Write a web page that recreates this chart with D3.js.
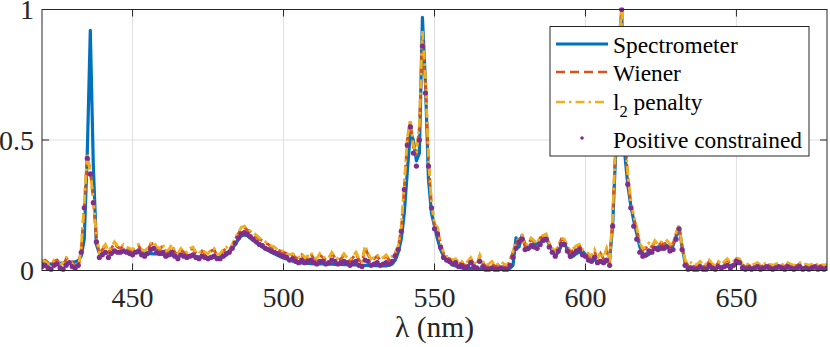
<!DOCTYPE html>
<html>
<head>
<meta charset="utf-8">
<script src="https://cdn.jsdelivr.net/npm/d3@7"></script>
<style>
  body { margin: 0; background: #fff; }
</style>
</head>
<body>
<svg id="chart" width="830" height="347"></svg>
<script>
// wavelength grid (nm), one sample per nm
var wavelength = d3.range(420, 681);

var xTicks = [450, 500, 550, 600, 650];
var yTicks = [0, 0.5, 1];
var yTickLabels = ["0", "0.5", "1"];

var seriesNames = ["Spectrometer", "Wiener", "l2 penalty", "Positive constrained"];

var spectrometer = [
  .028,.027,.026,.025,.025,.026,.027,.028,.029,.030,
  .031,.033,.038,.055,.12,.45,.92,.40,.10,.066,
  .064,.066,.068,.070,.071,.072,.072,.072,.071,.071,
  .070,.069,.068,.067,.067,.066,.065,.064,.064,.063,
  .062,.061,.060,.059,.058,.058,.057,.056,.055,.055,
  .054,.053,.052,.052,.051,.050,.050,.050,.050,.051,
  .053,.058,.068,.085,.100,.118,.132,.138,.133,.124,
  .115,.106,.098,.090,.083,.076,.070,.064,.058,.053,
  .048,.044,.040,.036,.033,.031,.029,.028,.027,.026,
  .026,.025,.025,.025,.024,.024,.024,.023,.023,.023,
  .022,.022,.022,.021,.021,.021,.020,.020,.020,.020,
  .019,.019,.019,.018,.018,.020,.025,.040,.070,.120,
  .220,.380,.530,.500,.420,.450,.970,.720,.350,.220,
  .170,.120,.080,.055,.040,.030,.022,.017,.013,.010,
  .008,.007,.007,.006,.006,.006,.005,.005,.005,.005,
  .005,.005,.005,.005,.006,.008,.020,.125,.090,.135,
  .100,.080,.090,.105,.100,.110,.125,.120,.100,.075,
  .055,.070,.095,.105,.080,.050,.055,.065,.070,.075,
  .060,.040,.035,.040,.040,.035,.035,.033,.040,.170,
  .450,.850,1.00,.450,.330,.250,.190,.140,.090,.065,
  .055,.062,.075,.085,.090,.095,.100,.095,.090,.095,
  .130,.165,.090,.030,.015,.012,.011,.010,.010,.010,
  .010,.011,.012,.012,.012,.013,.014,.016,.020,.018,
  .025,.035,.020,.012,.010,.010,.010,.010,.010,.010,
  .010,.010,.010,.010,.010,.010,.010,.010,.010,.010,
  .010,.010,.010,.010,.010,.010,.010,.010,.010,.010,
  .010
];

var wiener = [
  .035,.040,.030,.020,.035,.040,.025,.020,.045,.050,
  .030,.020,.010,.080,.250,.440,.380,.270,.120,.065,
  .080,.095,.070,.085,.105,.090,.085,.095,.085,.080,
  .075,.090,.095,.075,.070,.080,.100,.105,.085,.080,
  .095,.070,.075,.095,.070,.060,.080,.070,.065,.080,
  .085,.065,.060,.075,.065,.060,.075,.080,.055,.060,
  .075,.085,.075,.095,.120,.140,.160,.165,.155,.150,
  .140,.130,.120,.115,.105,.100,.090,.085,.080,.075,
  .070,.065,.055,.060,.050,.045,.060,.045,.050,.065,
  .045,.040,.060,.050,.040,.045,.065,.050,.040,.045,
  .060,.045,.035,.050,.065,.040,.030,.090,.060,.040,
  .045,.055,.040,.045,.055,.040,.050,.065,.090,.160,
  .320,.500,.570,.470,.440,.550,.900,.720,.420,.250,
  .170,.160,.100,.065,.050,.045,.035,.040,.025,.030,
  .020,.030,.045,.025,.020,.055,.030,.015,.020,.030,
  .015,.020,.030,.020,.015,.040,.070,.100,.120,.130,
  .090,.100,.120,.110,.100,.125,.130,.135,.100,.080,
  .070,.090,.120,.115,.090,.070,.080,.090,.095,.075,
  .070,.060,.050,.075,.040,.065,.045,.080,.030,.200,
  .480,.860,.990,.520,.360,.260,.200,.160,.100,.080,
  .085,.100,.090,.110,.095,.105,.100,.110,.095,.100,
  .140,.170,.090,.035,.020,.025,.015,.020,.030,.015,
  .020,.035,.020,.015,.030,.020,.030,.040,.025,.030,
  .045,.040,.020,.015,.020,.015,.020,.025,.015,.020,
  .025,.020,.015,.020,.025,.020,.015,.025,.020,.015,
  .020,.025,.015,.020,.015,.020,.025,.015,.020,.015,
  .020
];

var l2penalty = [
  .040,.035,.025,.025,.040,.035,.020,.030,.050,.045,
  .025,.010,.005,.090,.260,.450,.370,.280,.130,.070,
  .085,.100,.075,.090,.110,.095,.090,.100,.090,.085,
  .080,.095,.100,.080,.075,.085,.105,.110,.090,.085,
  .100,.075,.080,.100,.075,.065,.085,.075,.070,.085,
  .090,.070,.065,.080,.070,.065,.080,.085,.060,.065,
  .080,.090,.080,.100,.125,.145,.165,.170,.160,.150,
  .145,.135,.125,.115,.110,.100,.095,.090,.080,.075,
  .075,.065,.060,.065,.055,.050,.065,.050,.055,.070,
  .050,.045,.065,.055,.045,.050,.070,.055,.045,.050,
  .065,.050,.040,.055,.070,.045,.035,.095,.065,.045,
  .050,.060,.045,.050,.060,.045,.055,.070,.095,.170,
  .330,.510,.580,.480,.450,.560,.920,.740,.430,.260,
  .180,.165,.105,.070,.055,.050,.040,.045,.030,.035,
  .025,.035,.050,.030,.025,.060,.035,.020,.025,.035,
  .020,.025,.035,.025,.020,.045,.075,.105,.125,.135,
  .095,.105,.125,.115,.105,.130,.135,.140,.105,.085,
  .075,.095,.125,.120,.095,.075,.085,.095,.100,.080,
  .075,.065,.055,.080,.045,.070,.050,.085,.035,.210,
  .490,.870,1.00,.530,.370,.270,.210,.165,.105,.085,
  .090,.105,.095,.115,.100,.110,.105,.115,.100,.105,
  .145,.175,.095,.040,.025,.030,.020,.025,.035,.020,
  .025,.040,.025,.020,.035,.025,.035,.045,.030,.035,
  .050,.045,.025,.020,.025,.020,.025,.030,.020,.025,
  .030,.025,.020,.025,.030,.025,.020,.030,.025,.020,
  .025,.030,.020,.025,.020,.025,.030,.020,.025,.020,
  .025
];

var positive = [
  .015,.020,.010,.005,.020,.025,.010,.005,.020,.030,
  .015,.010,.020,.070,.240,.430,.370,.260,.110,.050,
  .060,.070,.050,.065,.075,.070,.070,.075,.070,.065,
  .060,.070,.075,.060,.055,.065,.080,.085,.070,.065,
  .070,.055,.060,.070,.055,.045,.060,.055,.050,.055,
  .060,.050,.045,.055,.050,.045,.050,.055,.045,.045,
  .055,.065,.070,.085,.105,.125,.140,.145,.140,.130,
  .120,.110,.100,.095,.085,.080,.075,.070,.065,.060,
  .055,.050,.040,.045,.035,.030,.040,.030,.035,.040,
  .030,.025,.035,.035,.025,.030,.040,.035,.025,.030,
  .035,.030,.020,.030,.035,.020,.015,.040,.035,.020,
  .025,.030,.020,.025,.030,.025,.035,.055,.080,.150,
  .310,.480,.550,.450,.400,.500,.860,.680,.400,.240,
  .160,.140,.090,.050,.040,.035,.025,.030,.015,.020,
  .010,.015,.030,.015,.010,.035,.015,.005,.005,.010,
  .005,.005,.010,.005,.005,.020,.050,.085,.110,.120,
  .080,.085,.095,.090,.085,.100,.115,.120,.090,.070,
  .055,.075,.100,.100,.075,.055,.065,.075,.080,.060,
  .055,.040,.035,.050,.030,.035,.030,.040,.020,.170,
  .450,.840,1.00,.500,.330,.240,.170,.120,.070,.055,
  .060,.075,.070,.085,.080,.085,.085,.090,.075,.080,
  .120,.160,.080,.020,.005,.010,.005,.005,.015,.005,
  .005,.020,.010,.005,.015,.010,.015,.020,.010,.020,
  .035,.030,.010,.005,.010,.005,.010,.015,.005,.010,
  .015,.010,.005,.010,.015,.010,.005,.015,.010,.005,
  .010,.015,.005,.010,.005,.010,.015,.005,.010,.005,
  .010
];

var FONT = "'Liberation Serif', 'Times New Roman', Times, 'DejaVu Serif', serif";

var svg = d3.select("#chart");
var mLeft = 42, mRight = 827, mTop = 9.5, mBottom = 270.5;

var x = d3.scaleLinear().domain([420, 680]).range([mLeft, mRight]);
var y = d3.scaleLinear().domain([0, 1]).range([mBottom, mTop]);

svg.append("rect").attr("width", 830).attr("height", 347).attr("fill", "#fff");

// grid
var grid = svg.append("g").attr("stroke", "#dfdfdf").attr("stroke-width", 1);
grid.selectAll(".gx").data(xTicks).enter().append("line")
    .attr("x1", d => x(d)).attr("x2", d => x(d))
    .attr("y1", mTop).attr("y2", mBottom);
grid.selectAll(".gy").data(yTicks).enter().append("line")
    .attr("x1", mLeft).attr("x2", mRight)
    .attr("y1", d => y(d)).attr("y2", d => y(d));

svg.append("clipPath").attr("id", "clip")
  .append("rect").attr("x", mLeft).attr("y", mTop - 2)
  .attr("width", mRight - mLeft).attr("height", mBottom - mTop + 4);

var plot = svg.append("g").attr("clip-path", "url(#clip)");

function lineOf(vals) {
    return d3.line()
        .x((d, i) => x(wavelength[i]))
        .y(d => y(d))(vals);
}

plot.append("path").attr("d", lineOf(spectrometer))
    .attr("fill", "none").attr("stroke", "#0072BD").attr("stroke-width", 3.2)
    .attr("stroke-linejoin", "round");

plot.append("path").attr("d", lineOf(wiener))
    .attr("fill", "none").attr("stroke", "#D95319").attr("stroke-width", 2.8)
    .attr("stroke-dasharray", "9,5");

plot.append("path").attr("d", lineOf(l2penalty))
    .attr("fill", "none").attr("stroke", "#EDB120").attr("stroke-width", 2.8)
    .attr("stroke-dasharray", "9,4,2.5,4");

plot.selectAll(".pc").data(positive).enter().append("circle")
    .attr("cx", (d, i) => x(wavelength[i]))
    .attr("cy", d => y(d))
    .attr("r", 2.6)
    .attr("fill", "#7E2F8E");

// axes box and ticks
var axis = svg.append("g").attr("stroke", "#262626").attr("stroke-width", 1).attr("fill", "none");
axis.append("rect").attr("x", mLeft).attr("y", mTop)
    .attr("width", mRight - mLeft).attr("height", mBottom - mTop);
xTicks.forEach(function (t) {
    axis.append("line").attr("x1", x(t)).attr("x2", x(t)).attr("y1", mBottom).attr("y2", mBottom - 7);
    axis.append("line").attr("x1", x(t)).attr("x2", x(t)).attr("y1", mTop).attr("y2", mTop + 7);
});
yTicks.forEach(function (t) {
    axis.append("line").attr("x1", mLeft).attr("x2", mLeft + 7).attr("y1", y(t)).attr("y2", y(t));
    axis.append("line").attr("x1", mRight).attr("x2", mRight - 7).attr("y1", y(t)).attr("y2", y(t));
});

svg.append("g").selectAll("text").data(xTicks).enter().append("text")
    .attr("x", d => x(d)).attr("y", 307)
    .attr("font-family", FONT)
    .attr("text-anchor", "middle").attr("font-size", 28).attr("fill", "#262626")
    .text(d => d);

svg.append("g").selectAll("text").data(yTicks).enter().append("text")
    .attr("x", mLeft - 8).attr("y", d => y(d)).attr("dy", "0.35em")
    .attr("font-family", FONT)
    .attr("text-anchor", "end").attr("font-size", 28).attr("fill", "#262626")
    .text((d, i) => yTickLabels[i]);

svg.append("text").attr("x", (mLeft + mRight) / 2).attr("y", 337)
    .attr("font-family", FONT)
    .attr("text-anchor", "middle").attr("font-size", 29.5).attr("fill", "#262626")
    .text("λ (nm)");

// legend
var lg = svg.append("g");
lg.append("rect").attr("x", 550).attr("y", 26.5).attr("width", 259).attr("height", 129.5)
    .attr("fill", "#fff").attr("stroke", "#262626").attr("stroke-width", 1);

var rowY = [44, 72, 102, 138];
var baseY = [52.5, 81, 110, 148];

lg.append("line").attr("x1", 556).attr("x2", 608).attr("y1", rowY[0]).attr("y2", rowY[0])
    .attr("stroke", "#0072BD").attr("stroke-width", 3);
lg.append("line").attr("x1", 556).attr("x2", 608).attr("y1", rowY[1]).attr("y2", rowY[1])
    .attr("stroke", "#D95319").attr("stroke-width", 2.5).attr("stroke-dasharray", "9,5");
lg.append("line").attr("x1", 556).attr("x2", 608).attr("y1", rowY[2]).attr("y2", rowY[2])
    .attr("stroke", "#EDB120").attr("stroke-width", 2.5).attr("stroke-dasharray", "9,4,2.5,4");
lg.append("circle").attr("cx", 582).attr("cy", rowY[3]).attr("r", 1.8).attr("fill", "#7E2F8E");

function legendText(i) {
    return lg.append("text").attr("x", 613).attr("y", baseY[i])
        .attr("font-family", FONT)
        .attr("font-size", 23.4).attr("fill", "#000");
}
legendText(0).text(seriesNames[0]);
legendText(1).text(seriesNames[1]);
var t2 = legendText(2);
t2.append("tspan").text("l");
t2.append("tspan").attr("font-size", 16.5).attr("dy", 7).text("2");
t2.append("tspan").attr("dy", -7).text(" penalty");
legendText(3).text(seriesNames[3]);
</script>
</body>
</html>
